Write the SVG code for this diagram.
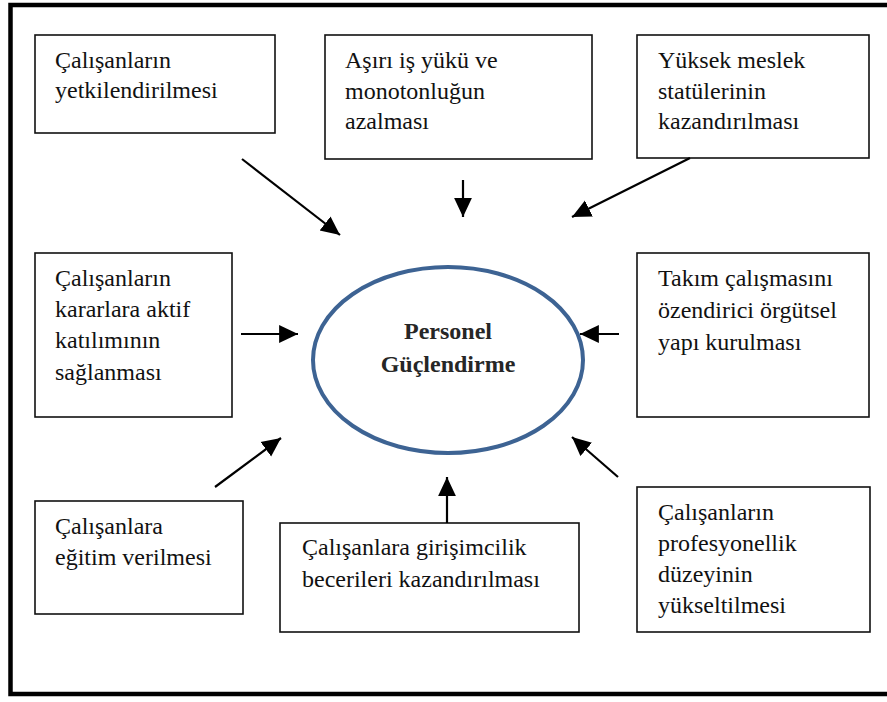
<svg xmlns="http://www.w3.org/2000/svg" width="887" height="702" viewBox="0 0 887 702">
<style>
.box{fill:#fff;stroke:#111;stroke-width:1.6}
.t{font-family:'Liberation Serif','DejaVu Serif',serif;font-size:24px;fill:#111}
.b{font-family:'Liberation Serif','DejaVu Serif',serif;font-size:24px;font-weight:bold;fill:#262626;text-anchor:middle}
.c{stroke:#000;stroke-width:2.2;fill:none;marker-end:url(#ah)}
</style>
<defs>
<marker id="ah" markerUnits="userSpaceOnUse" markerWidth="20" markerHeight="20" viewBox="0 0 18 18" refX="17" refY="9" orient="auto">
<path d="M0,1 L17,9 L0,17 Z" fill="#000"/>
</marker>
</defs>
<rect x="0" y="0" width="887" height="702" fill="#fff"/>
<rect x="10.5" y="5" width="900" height="689" fill="none" stroke="#000" stroke-width="4.5"/>
<g id="center">
<ellipse cx="448" cy="360" rx="135" ry="93" fill="#fff" stroke="#3d6393" stroke-width="4"/>
<text class="b" x="448" y="339">Personel</text>
<text class="b" x="448" y="372">Güçlendirme</text>
</g>
<g id="n1">
<rect class="box" x="35" y="35" width="240" height="98"/>
<text class="t" x="55" y="68">Çalışanların</text>
<text class="t" x="55" y="98">yetkilendirilmesi</text>
</g>
<g id="n2">
<rect class="box" x="325" y="35" width="267" height="124"/>
<text class="t" x="345" y="68">Aşırı iş yükü ve</text>
<text class="t" x="345" y="99">monotonluğun</text>
<text class="t" x="345" y="129">azalması</text>
</g>
<g id="n3">
<rect class="box" x="637" y="35" width="232" height="123"/>
<text class="t" x="658" y="68">Yüksek meslek</text>
<text class="t" x="658" y="99">statülerinin</text>
<text class="t" x="658" y="129">kazandırılması</text>
</g>
<g id="n4">
<rect class="box" x="35" y="253" width="197" height="164"/>
<text class="t" x="55" y="286">Çalışanların</text>
<text class="t" x="55" y="317">kararlara aktif</text>
<text class="t" x="55" y="348">katılımının</text>
<text class="t" x="55" y="380">sağlanması</text>
</g>
<g id="n5">
<rect class="box" x="637" y="253" width="232" height="164"/>
<text class="t" x="658" y="286">Takım çalışmasını</text>
<text class="t" x="658" y="318">özendirici örgütsel</text>
<text class="t" x="658" y="350">yapı kurulması</text>
</g>
<g id="n6">
<rect class="box" x="35" y="501" width="208" height="113"/>
<text class="t" x="55" y="534">Çalışanlara</text>
<text class="t" x="55" y="565">eğitim verilmesi</text>
</g>
<g id="n7">
<rect class="box" x="280" y="523" width="299" height="109"/>
<text class="t" x="302" y="555">Çalışanlara girişimcilik</text>
<text class="t" x="302" y="587">becerileri kazandırılması</text>
</g>
<g id="n8">
<rect class="box" x="637" y="487" width="233" height="145"/>
<text class="t" x="658" y="520">Çalışanların</text>
<text class="t" x="658" y="551">profesyonellik</text>
<text class="t" x="658" y="582">düzeyinin</text>
<text class="t" x="658" y="613">yükseltilmesi</text>
</g>
<g id="connectors">
<line class="c" x1="242" y1="159" x2="340" y2="235"/>
<line class="c" x1="463" y1="180" x2="463" y2="217"/>
<line class="c" x1="690" y1="158" x2="572" y2="217"/>
<line class="c" x1="241" y1="334" x2="298" y2="334"/>
<line class="c" x1="619" y1="334" x2="580" y2="334"/>
<line class="c" x1="215" y1="487" x2="281" y2="438"/>
<line class="c" x1="618" y1="477" x2="572" y2="437"/>
<line class="c" x1="447" y1="523" x2="447" y2="477"/>
</g>
</svg>
